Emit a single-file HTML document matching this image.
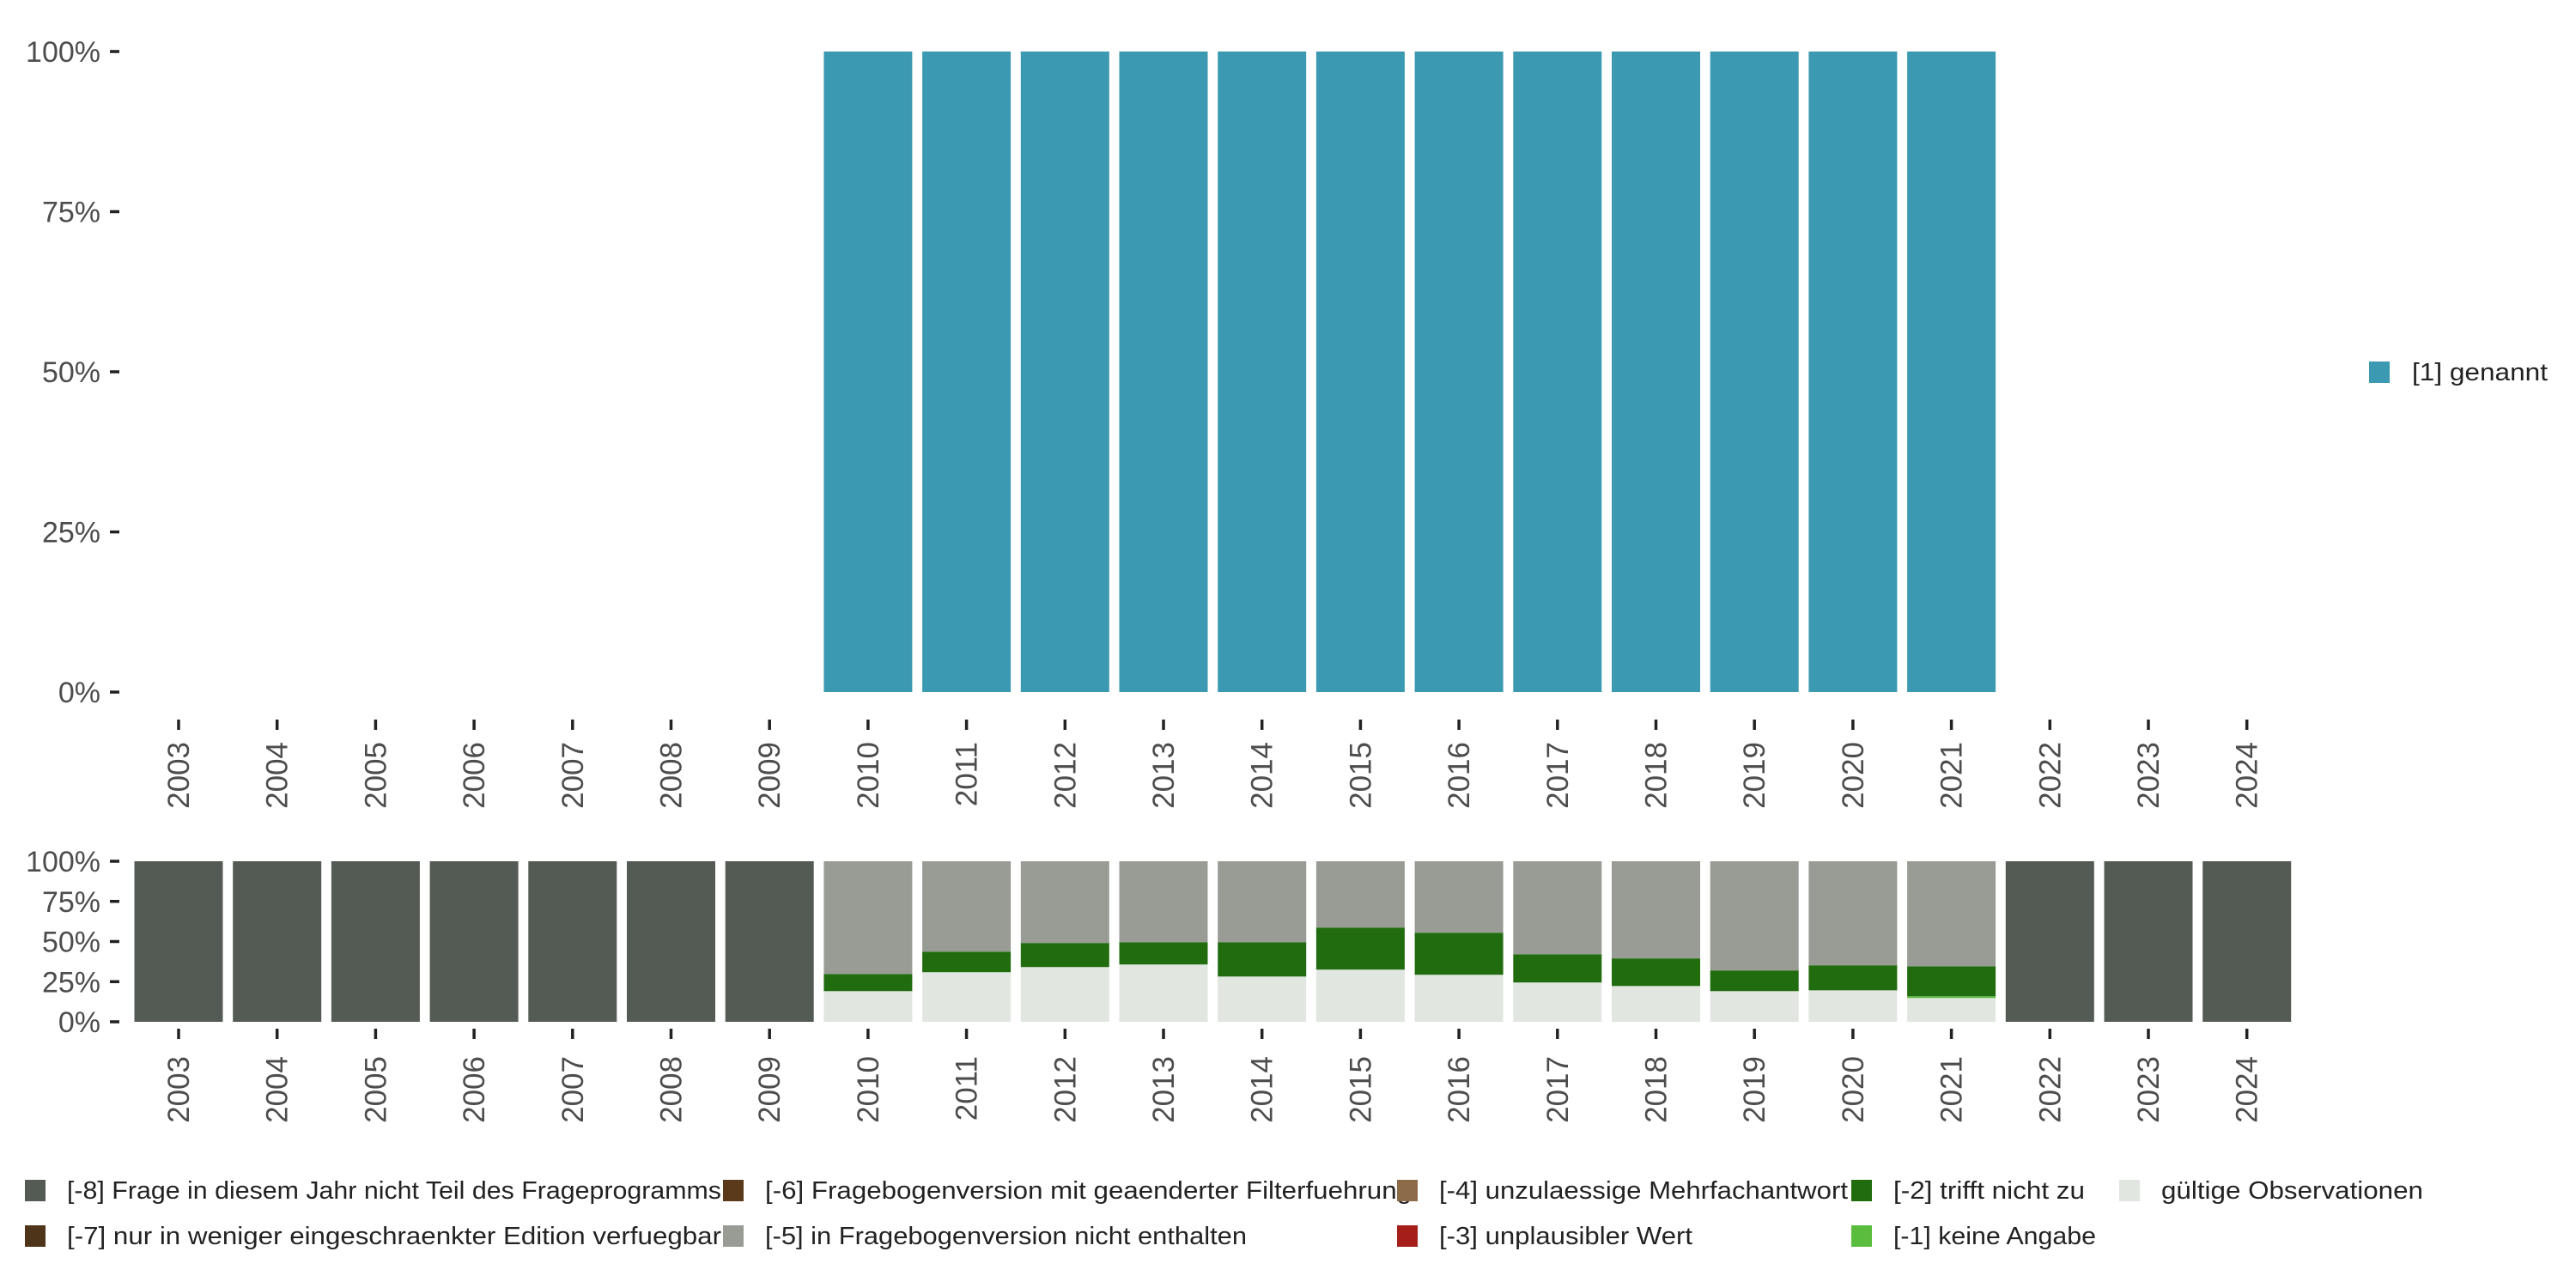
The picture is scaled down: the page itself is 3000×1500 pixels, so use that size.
<!DOCTYPE html>
<html><head><meta charset="utf-8"><style>
html,body{margin:0;padding:0;background:#fff;}
svg{display:block;font-family:"Liberation Sans",sans-serif;}
</style></head><body>
<svg id="chart" xmlns="http://www.w3.org/2000/svg" width="3000" height="1500" viewBox="0 0 3000 1500">
<rect x="0" y="0" width="3000" height="1500" fill="#fff"/>
<g id="topPanel"></g>
<g id="bottomPanel"></g>
<g id="legendR"></g>
<g id="legendB"></g>
</svg>
<script>
const years = [2003,2004,2005,2006,2007,2008,2009,2010,2011,2012,2013,2014,2015,2016,2017,2018,2019,2020,2021,2022,2023,2024];
const genannt = [null,null,null,null,null,null,null,1,1,1,1,1,1,1,1,1,1,1,1,null,null,null];
const valid   = [0,0,0,0,0,0,0,0.191,0.309,0.341,0.357,0.282,0.325,0.293,0.245,0.223,0.191,0.196,0.148,0,0,0];
const keineAngabe = [0,0,0,0,0,0,0,0,0,0,0,0,0,0,0,0,0,0,0.011,0,0,0];
const trifftNicht = [0,0,0,0,0,0,0,0.107,0.128,0.150,0.139,0.214,0.262,0.262,0.176,0.172,0.129,0.156,0.187,0,0,0];
const notInVersion = [0,0,0,0,0,0,0,0.702,0.563,0.509,0.504,0.504,0.413,0.445,0.579,0.605,0.680,0.648,0.654,0,0,0];
const notInYear = [1,1,1,1,1,1,1,0,0,0,0,0,0,0,0,0,0,0,0,1,1,1];
const yTicks = [0,0.25,0.5,0.75,1];
const yTickLabels = ["0%","25%","50%","75%","100%"];

const NS="http://www.w3.org/2000/svg";
function el(tag,attrs,parent,text){const e=document.createElementNS(NS,tag);for(const k in attrs)e.setAttribute(k,attrs[k]);if(text!==undefined)e.textContent=text;parent.appendChild(e);return e;}
const slot=114.7, x0=208, bw=103;
function xC(i){return x0+i*slot;}

function panel(g, yTop, yBot, tickY1, labelY){
  const ys=v=>yBot-(yBot-yTop)*v;
  yTicks.forEach((t,i)=>{
    const tk=el('line',{x1:128,x2:139,y1:ys(t),y2:ys(t),stroke:'#222','stroke-width':3.5},g);
    
    
    const lb=el('text',{x:117,y:ys(t)+12,'text-anchor':'end','font-size':34,fill:'#4d4d4d'},g,yTickLabels[i]);
    
    
  });
  years.forEach((yr,i)=>{
    const tk=el('line',{x1:xC(i),x2:xC(i),y1:tickY1,y2:tickY1+12,stroke:'#222','stroke-width':3.5},g);
    
    
    const lb=el('text',{x:0,y:0,'text-anchor':'end','font-size':35,fill:'#4d4d4d',transform:`translate(${xC(i)+12},${labelY}) rotate(-90)`},g,String(yr));
    
    
  });
  return ys;
}
const topG=document.getElementById('topPanel');
const ysT=panel(topG,60,806,838,864);
years.forEach((yr,i)=>{
  if(genannt[i]==null)return;
  const r=el('rect',{x:xC(i)-bw/2,y:ysT(genannt[i]),width:bw,height:ysT(0)-ysT(genannt[i]),fill:'#3B99B1'},topG);
  
  
});
const botG=document.getElementById('bottomPanel');
const ysB=panel(botG,1003,1190,1198,1230);
const series=[[valid,'#E1E6E1','valid'],[keineAngabe,'#5BBD3D','keine-angabe'],[trifftNicht,'#216C0F','trifft-nicht-zu'],[notInVersion,'#989C94','nicht-enthalten'],[notInYear,'#535B54','nicht-teil']];
years.forEach((yr,i)=>{
  let c=0;
  series.forEach(([arr,col,nm])=>{
    const v=arr[i]; if(!v)return;
    const r=el('rect',{x:xC(i)-bw/2,y:ysB(c+v),width:bw,height:ysB(c)-ysB(c+v),fill:col},botG);
    
    
    c+=v;
  });
});
const lr=document.getElementById('legendR');
const s0=el('rect',{x:2759,y:421,width:24,height:25,fill:'#3B99B1'},lr);


const t0=el('text',{x:2809,y:443,'font-size':29,fill:'#222',textLength:158,lengthAdjust:'spacingAndGlyphs'},lr,'[1] genannt');



const legItems=[
 [29,1374,'#535B54','[-8] Frage in diesem Jahr nicht Teil des Frageprogramms',762],
 [29,1427,'#4E3418','[-7] nur in weniger eingeschraenkter Edition verfuegbar',762],
 [842,1374,'#5A3A1A','[-6] Fragebogenversion mit geaenderter Filterfuehrung',753],
 [842,1427,'#989C94','[-5] in Fragebogenversion nicht enthalten',561],
 [1627,1374,'#8C6B48','[-4] unzulaessige Mehrfachantwort',476],
 [1627,1427,'#A51E19','[-3] unplausibler Wert',295],
 [2156,1374,'#216C0F','[-2] trifft nicht zu',223],
 [2156,1427,'#5BBD3D','[-1] keine Angabe',236],
 [2468,1374,'#E1E6E1','gültige Observationen',305]
];
const lgB=document.getElementById('legendB');
legItems.forEach(([x,y,col,txt,w])=>{
  const s=el('rect',{x:x,y:y,width:24,height:25,fill:col},lgB);
  
  
  const t=el('text',{x:x+49,y:y+22,'font-size':29,fill:'#222',textLength:w,lengthAdjust:'spacingAndGlyphs'},lgB,txt);
  
  
});
</script>
</body></html>
